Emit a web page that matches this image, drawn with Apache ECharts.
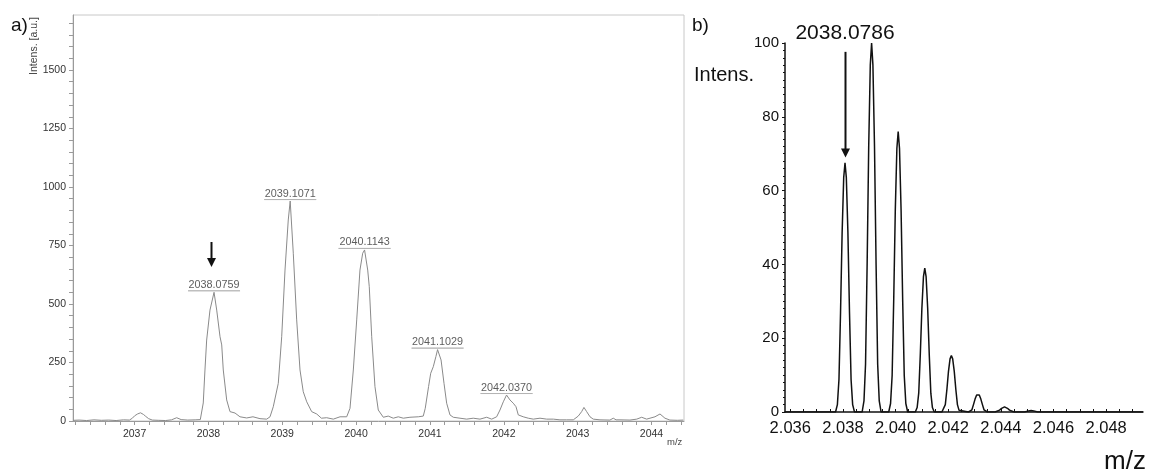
<!DOCTYPE html>
<html>
<head>
<meta charset="utf-8">
<script src="https://cdn.jsdelivr.net/npm/echarts@6/dist/echarts.min.js"></script>
<style>
  html, body { margin: 0; padding: 0; background: #fff; }
  #chart { width: 1149px; height: 470px; }
</style>
</head>
<body>
<div id="chart"></div>
<script>
// ---------- a) measured spectrum (m/z, intensity in a.u.) ----------
const spectrumA = [
  [2036.17, 3], [2036.25, 4], [2036.35, 2], [2036.45, 5], [2036.55, 3], [2036.65, 4], [2036.75, 2],
  [2036.85, 5], [2036.93, 4], [2036.97, 12], [2037.00, 22], [2037.04, 30], [2037.08, 35], [2037.12, 28],
  [2037.15, 20], [2037.19, 10], [2037.24, 4], [2037.32, 3], [2037.42, 2], [2037.50, 5], [2037.57, 14],
  [2037.63, 6], [2037.72, 4], [2037.82, 5], [2037.89, 6],
  [2037.909, 13], [2037.930, 77], [2037.953, 218], [2037.976, 346], [2038.021, 474],
  [2038.112, 474], [2038.157, 360], [2038.180, 325], [2038.201, 218], [2038.247, 90], [2038.292, 40],
  [2038.360, 34], [2038.427, 18], [2038.518, 13], [2038.603, 18], [2038.698, 10], [2038.789, 8], [2038.834, 18],
  [2038.878, 61], [2038.946, 161], [2038.992, 360], [2039.037, 645], [2039.081, 859],
  [2039.149, 717], [2039.195, 432], [2039.240, 218], [2039.284, 125], [2039.331, 82], [2039.398, 40],
  [2039.466, 30], [2039.530, 12], [2039.601, 14], [2039.691, 8], [2039.782, 18], [2039.872, 18],
  [2039.917, 54], [2039.962, 218], [2040.008, 432], [2040.052, 645], [2040.089, 717],
  [2040.157, 645], [2040.178, 574], [2040.211, 360], [2040.255, 147], [2040.300, 47], [2040.368, 16],
  [2040.435, 21], [2040.503, 12], [2040.571, 18], [2040.639, 12], [2040.729, 16], [2040.842, 18], [2040.909, 21],
  [2040.936, 54], [2040.981, 147], [2041.010, 204], [2041.045, 232], [2041.080, 275],
  [2041.150, 261], [2041.190, 161], [2041.226, 76], [2041.271, 26], [2041.316, 16], [2041.406, 12],
  [2041.497, 8], [2041.586, 12], [2041.677, 8], [2041.768, 16], [2041.836, 8], [2041.903, 18],
  [2041.948, 47], [2041.993, 82],
  [2042.083, 90], [2042.128, 76], [2042.165, 61], [2042.196, 26], [2042.263, 18], [2042.331, 12],
  [2042.399, 8], [2042.490, 12], [2042.580, 8], [2042.670, 8], [2042.760, 5], [2042.851, 5], [2042.941, 5],
  [2043.008, 21], [2043.054, 40], [2043.085, 58], [2043.122, 40], [2043.167, 18], [2043.211, 8],
  [2043.302, 5], [2043.437, 4], [2043.482, 12], [2043.520, 5], [2043.573, 5], [2043.708, 4], [2043.800, 8],
  [2043.867, 16], [2043.934, 8], [2044.047, 18], [2044.115, 30], [2044.182, 12], [2044.249, 4],
  [2044.350, 3], [2044.430, 4]
];
// labelled peak maxima
const peakMzA = [2038.0759, 2039.1071, 2040.1143, 2041.1029, 2042.0370];
const peakLabelA = ['2038.0759', '2039.1071', '2040.1143', '2041.1029', '2042.0370'];
const peakIntA = [550, 940, 731, 305, 111];
const xLabelsA = [2037, 2038, 2039, 2040, 2041, 2042, 2043, 2044];
const yLabelsA = [0, 250, 500, 750, 1000, 1250, 1500];
// arrow marking the monoisotopic peak: m/z, start and end intensity
const arrowA = [2038.03, 765, 658];

// ---------- b) calculated isotope pattern (m/z / 1000, relative intensity) ----------
const spectrumB = [
  [2.0358, 0],
  [2.03772, 0], [2.03779, 2], [2.03785, 8.8], [2.03791, 27], [2.03797, 48.6], [2.03803, 63.5],
  [2.03808, 67.5],
  [2.03813, 63.5], [2.03819, 48.6], [2.03825, 27], [2.03831, 8.8], [2.03837, 2], [2.03844, 0],
  [2.03873, 0], [2.03880, 3], [2.03886, 13], [2.03892, 40], [2.03898, 72], [2.03904, 94],
  [2.03909, 100],
  [2.03914, 94], [2.03920, 72], [2.03926, 40], [2.03932, 13], [2.03938, 3], [2.03945, 0],
  [2.03974, 0], [2.03981, 2.3], [2.03987, 9.9], [2.03993, 30.4], [2.03999, 54.7], [2.04005, 71.4],
  [2.04010, 76],
  [2.04015, 71.4], [2.04021, 54.7], [2.04027, 30.4], [2.04033, 9.9], [2.04039, 2.3], [2.04046, 0],
  [2.04075, 0], [2.04082, 1.2], [2.04088, 5.1], [2.04094, 15.6], [2.04100, 28.1], [2.04106, 36.7],
  [2.04111, 39],
  [2.04116, 36.7], [2.04122, 28.1], [2.04128, 15.6], [2.04134, 5.1], [2.04140, 1.2], [2.04147, 0],
  [2.04176, 0], [2.04183, 0.5], [2.04189, 2], [2.04195, 6.1], [2.04201, 11], [2.04207, 14.4],
  [2.04212, 15.3],
  [2.04217, 14.4], [2.04223, 11], [2.04229, 6.1], [2.04235, 2], [2.04241, 0.5], [2.04248, 0],
  [2.04277, 0], [2.04290, 0.6], [2.04296, 2], [2.04302, 3.5], [2.04308, 4.6],
  [2.04313, 4.9],
  [2.04318, 4.6], [2.04324, 3.5], [2.04330, 2], [2.04336, 0.6], [2.04349, 0],
  [2.04378, 0], [2.04395, 0.5], [2.04403, 1.0], [2.04409, 1.3],
  [2.04414, 1.4],
  [2.04419, 1.3], [2.04425, 1.0], [2.04433, 0.5], [2.04450, 0],
  [2.04490, 0], [2.04505, 0.3], [2.04515, 0.4], [2.04525, 0.3], [2.04540, 0],
  [2.0494, 0]
];
const xLabelsB = [2.036, 2.038, 2.040, 2.042, 2.044, 2.046, 2.048];
const yLabelsB = [0, 20, 40, 60, 80, 100];
// arrow + caption for the first isotope peak
const arrowB = [2.03808, 97.6, 69];
const captionB = { mz: 2.03808, y: 102.7, text: '2038.0786' };

// ---------- helpers ----------
function steps(from, to, step, digits) {
  const out = [];
  const n = Math.round((to - from) / step);
  for (let i = 0; i <= n; i++) out.push(+(from + i * step).toFixed(digits));
  return out;
}
const FONT = '"Liberation Sans", Arial, sans-serif';

const profileA = spectrumA
  .concat(peakMzA.map((m, i) => [m, peakIntA[i]]))
  .sort((p, q) => p[0] - q[0]);

const chart = echarts.init(document.getElementById('chart'), null, { renderer: 'canvas' });

const option = {
  backgroundColor: '#fff',
  animation: false,
  textStyle: { fontFamily: FONT },
  grid: [
    { left: 73, top: 15, width: 611, height: 406, show: true, borderColor: '#c8c8c8', borderWidth: 1 },
    { left: 785, top: 43, width: 358, height: 369 }
  ],
  xAxis: [
    {
      type: 'value', gridIndex: 0, min: 2036.166, max: 2044.44,
      splitLine: { show: false },
      axisLine: { lineStyle: { color: '#9a9a9a', width: 1 } },
      axisTick: { length: 4, lineStyle: { color: '#9a9a9a' }, customValues: steps(2036.2, 2044.4, 0.2, 1) },
      axisLabel: { customValues: xLabelsA, fontSize: 10.5, color: '#333', margin: 8, fontFamily: FONT,
        formatter: v => String(Math.round(v)) }
    },
    {
      type: 'value', gridIndex: 1, min: 2.0358, max: 2.0494,
      splitLine: { show: false },
      axisLine: { lineStyle: { color: '#111', width: 1.5 } },
      axisTick: { inside: true, length: 3, lineStyle: { color: '#111' }, customValues: steps(2.036, 2.049, 0.0005, 4) },
      axisLabel: { customValues: xLabelsB, fontSize: 16.5, color: '#111', margin: 8, fontFamily: FONT,
        formatter: v => v.toFixed(3) }
    }
  ],
  yAxis: [
    {
      type: 'value', gridIndex: 0, min: 0, max: 1735,
      splitLine: { show: false },
      axisLine: { show: true, lineStyle: { color: '#9a9a9a', width: 1 } },
      axisTick: { show: true, length: 4, lineStyle: { color: '#9a9a9a' }, customValues: steps(0, 1700, 50, 0) },
      axisLabel: { customValues: yLabelsA, fontSize: 10.5, color: '#333', margin: 7, fontFamily: FONT,
        formatter: v => String(v) }
    },
    {
      type: 'value', gridIndex: 1, min: 0, max: 100, interval: 20,
      splitLine: { show: false },
      axisLine: { show: true, lineStyle: { color: '#111', width: 1.5 } },
      axisTick: { show: true, length: 3, lineStyle: { color: '#111' } },
      minorTick: { show: true, splitNumber: 10, length: 2, lineStyle: { color: '#111' } },
      axisLabel: { fontSize: 15, color: '#111', margin: 6, fontFamily: FONT, formatter: v => String(v) }
    }
  ],
  series: [
    {
      type: 'line', xAxisIndex: 0, yAxisIndex: 0, data: profileA,
      showSymbol: false, symbol: 'none',
      lineStyle: { color: '#8a8a8a', width: 1 }, z: 3
    },
    {
      type: 'scatter', xAxisIndex: 0, yAxisIndex: 0,
      data: peakMzA.map((m, i) => [m, peakIntA[i]]),
      symbolSize: 1, itemStyle: { color: 'rgba(0,0,0,0)' }, z: 4,
      label: {
        show: true, position: 'top', distance: 1, align: 'center',
        formatter: p => '{t|' + peakLabelA[p.dataIndex] + '}\n{hr|}',
        rich: {
          t: { fontSize: 10.8, color: '#333', fontFamily: FONT, lineHeight: 12, align: 'center' },
          hr: { width: 52, height: 0, borderColor: '#b0b0b0', borderWidth: 1, align: 'center' }
        }
      }
    },
    {
      type: 'line', xAxisIndex: 1, yAxisIndex: 1, data: spectrumB,
      showSymbol: false, symbol: 'none',
      lineStyle: { color: '#111', width: 1.5 }, z: 3
    }
  ]
};
chart.setOption(option);

// annotations anchored to data coordinates
function px(grid, pt) { return chart.convertToPixel({ gridIndex: grid }, pt); }
function arrow(grid, a, head) {
  const p0 = px(grid, [a[0], a[1]]);
  const p1 = px(grid, [a[0], a[2]]);
  const x = Math.round(p0[0]) + 0.5;
  return [
    { type: 'line', z: 10, shape: { x1: x, y1: p0[1], x2: x, y2: p1[1] - head + 1 },
      style: { stroke: '#111', lineWidth: 2 } },
    { type: 'polygon', z: 10,
      shape: { points: [[x - head / 2, p1[1] - head], [x + head / 2, p1[1] - head], [x, p1[1]]] },
      style: { fill: '#111' } }
  ];
}
const cap = px(1, [captionB.mz, captionB.y]);

chart.setOption({
  graphic: [
    ...arrow(0, arrowA, 9),
    ...arrow(1, arrowB, 9),
    { type: 'text', z: 10, x: cap[0], y: cap[1],
      style: { text: captionB.text, font: '21px ' + FONT, fill: '#111', textAlign: 'center', textVerticalAlign: 'middle' } },
    { type: 'text', x: 11, y: 26,
      style: { text: 'a)', font: '19px ' + FONT, fill: '#111', textAlign: 'left', textVerticalAlign: 'middle' } },
    { type: 'text', x: 692, y: 26,
      style: { text: 'b)', font: '19px ' + FONT, fill: '#111', textAlign: 'left', textVerticalAlign: 'middle' } },
    { type: 'text', x: 34, y: 46, rotation: Math.PI / 2,
      style: { text: 'Intens. [a.u.]', font: '10.5px ' + FONT, fill: '#444', textAlign: 'center', textVerticalAlign: 'middle' } },
    { type: 'text', x: 667, y: 442,
      style: { text: 'm/z', font: '9.5px ' + FONT, fill: '#444', textAlign: 'left', textVerticalAlign: 'middle' } },
    { type: 'text', x: 694, y: 75,
      style: { text: 'Intens.', font: '20px ' + FONT, fill: '#111', textAlign: 'left', textVerticalAlign: 'middle' } },
    { type: 'text', x: 1146, y: 462,
      style: { text: 'm/z', font: '26px ' + FONT, fill: '#111', textAlign: 'right', textVerticalAlign: 'middle' } }
  ]
});
</script>
</body>
</html>
